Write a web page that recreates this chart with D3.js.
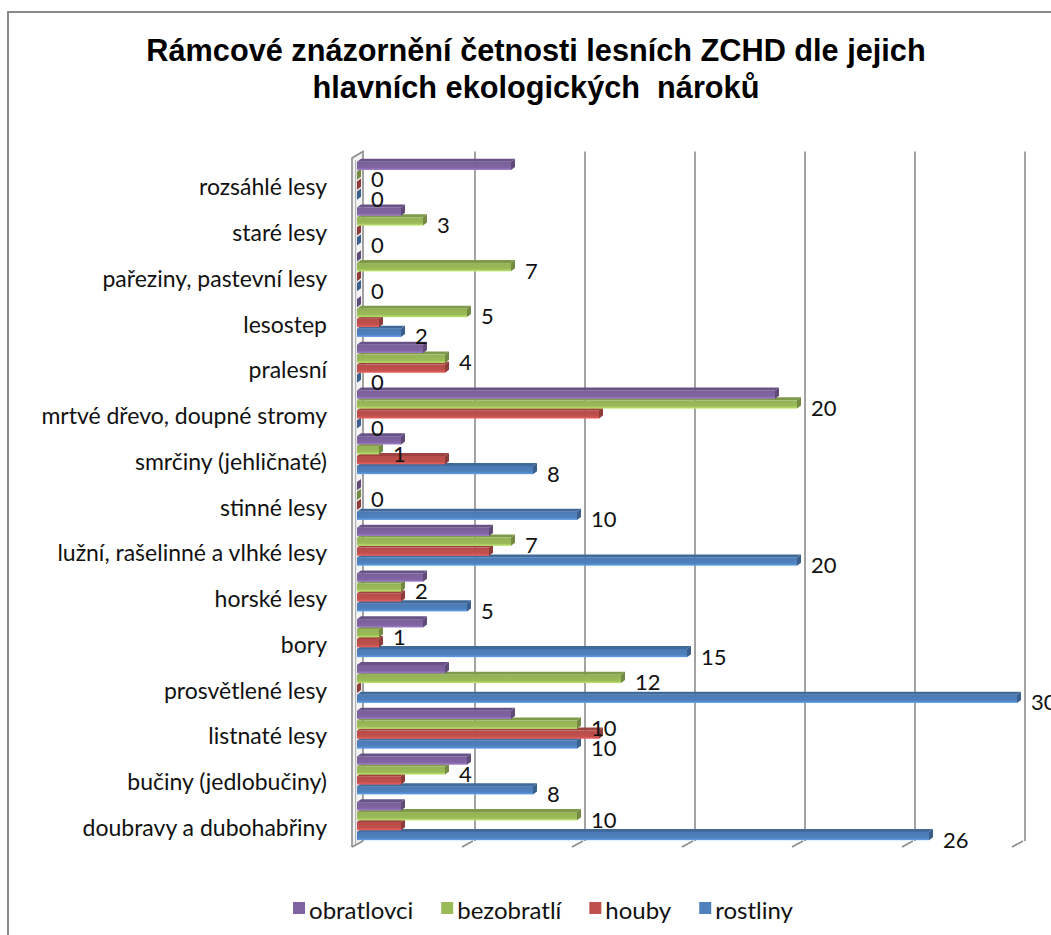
<!DOCTYPE html>
<html><head><meta charset="utf-8">
<script src="https://cdn.jsdelivr.net/npm/d3@7"></script>
<style>body{margin:0;background:#fff;overflow:hidden} svg{display:block}</style>
</head><body><svg id="chart" width="1051" height="935"></svg>
<script>
const categories = ["rozsáhlé lesy","staré lesy","pařeziny, pastevní lesy","lesostep","pralesní","mrtvé dřevo, doupné stromy","smrčiny (jehličnaté)","stinné lesy","lužní, rašelinné a vlhké lesy","horské lesy","bory","prosvětlené lesy","listnaté lesy","bučiny (jedlobučiny)","doubravy a dubohabřiny"];
const seriesNames = ["obratlovci","bezobratlí","houby","rostliny"];
const obratlovci = [7,2,0,0,3,19,2,0,6,3,3,4,7,5,2];
const bezobratli = [0,3,7,5,4,20,1,0,7,2,1,12,10,4,10];
const houby      = [0,0,0,1,4,11,4,0,6,2,1,0,11,2,2];
const rostliny   = [0,0,0,2,0,0,8,10,20,5,15,30,10,8,26];
const labeledSeries = ["bezobratlí","rostliny"];
const xTicks = [0,5,10,15,20,25,30];
const titleLines = ["Rámcové znázornění četnosti lesních ZCHD dle jejich","hlavních ekologických  nároků"];
const seriesColors = ["#8064A2","#9BBB59","#C0504D","#4F81BD"];

const seriesValues = [obratlovci, bezobratli, houby, rostliny];
const svg = d3.select("#chart");
const LABEL_FONT = "Lato, 'Open Sans', sans-serif";

// chart border
svg.append("rect").attr("x",8).attr("y",12).attr("width",1100).attr("height",1000)
  .attr("fill","#fff").attr("stroke","#8a8a8a").attr("stroke-width",2);

// title
svg.append("g").selectAll("text").data(titleLines).join("text")
  .attr("x",536).attr("y",(d,i)=>61+i*37)
  .attr("text-anchor","middle")
  .attr("font-family","'Liberation Sans', Arial, sans-serif")
  .attr("font-weight","bold").attr("font-size",30.7).attr("fill","#000")
  .style("white-space","pre")
  .text(d=>d);

// scales
const x = d3.scaleLinear().domain([0,30]).range([0,660]);
const y = d3.scaleBand().domain(categories).range([158.6, 844.85]).paddingInner(0.134).paddingOuter(0.067);
const ys = d3.scaleBand().domain(seriesNames).range([0, y.bandwidth()]);
const BAR_X0 = 357, FRONT_X0 = 352, BACK_X0 = 365;
const WALL_TOP = 151.5, FLOOR_BACK = 841, FLOOR_FRONT = 847;
const DX = 4, DY = 3, H = 8.3;
const gridColor = "#8c8c8c";

// gradients
const defs = svg.append("defs");
seriesColors.forEach((c,i)=>{
  const g = defs.append("linearGradient").attr("id","grad"+i).attr("x1",0).attr("y1",0).attr("x2",0).attr("y2",1);
  g.append("stop").attr("offset","0%").attr("stop-color", d3.color(c).darker(0.15));
  g.append("stop").attr("offset","70%").attr("stop-color", c);
  g.append("stop").attr("offset","100%").attr("stop-color", d3.color(c).brighter(0.6));
});

// left wall
const wall = svg.append("g");
wall.append("path")
  .attr("d",`M${FRONT_X0},${FLOOR_FRONT} V158 L${FRONT_X0+11},${WALL_TOP} V${FLOOR_BACK}`)
  .attr("fill","#f4f4f4").attr("stroke",gridColor).attr("stroke-width",1.6);
wall.append("line").attr("x1",355.6).attr("x2",355.6).attr("y1",160).attr("y2",845)
  .attr("stroke","#b5b5b5").attr("stroke-width",1.2);

// gridlines on back wall + floor ticks
const grid = svg.append("g");
grid.selectAll("line.g").data(xTicks.slice(1)).join("line").attr("class","g")
  .attr("x1",d=>BACK_X0+x(d)).attr("x2",d=>BACK_X0+x(d))
  .attr("y1",WALL_TOP).attr("y2",FLOOR_BACK)
  .attr("stroke",gridColor).attr("stroke-width",1.6);
grid.selectAll("line.t").data(xTicks).join("line").attr("class","t")
  .attr("x1",d=>FRONT_X0+x(d)).attr("x2",d=>BACK_X0+x(d)-2)
  .attr("y1",FLOOR_FRONT).attr("y2",FLOOR_BACK)
  .attr("stroke",gridColor).attr("stroke-width",1.6);

// bars
const bars = [];
categories.forEach((cat,ci)=>{
  seriesNames.forEach((s,si)=>{
    bars.push({cat, s, si, v: seriesValues[si][ci]});
  });
});
const drawOrder = bars.slice().reverse();
const barG = svg.append("g");
drawOrder.forEach(b=>{
  const y0 = y(b.cat) + ys(b.s);
  const x0 = BAR_X0, x1 = BAR_X0 + x(b.v);
  const c = seriesColors[b.si];
  const g = barG.append("g");
  if (b.v > 0) {
    g.append("path")
      .attr("d",`M${x0},${y0} L${x0+DX},${y0-DY} L${x1+DX},${y0-DY} L${x1},${y0} Z`)
      .attr("fill", d3.color(c).darker(0.55));
    g.append("rect").attr("x",x0).attr("y",y0).attr("width",x1-x0).attr("height",H)
      .attr("fill",`url(#grad${b.si})`);
  }
  g.append("path")
    .attr("d",`M${x1},${y0} L${x1+DX},${y0-DY} L${x1+DX},${y0-DY+H} L${x1},${y0+H} Z`)
    .attr("fill", d3.color(c).darker(0.85));
});

// data labels
svg.append("g").selectAll("text")
  .data(bars.filter(b=>labeledSeries.includes(b.s)))
  .join("text")
  .attr("x",b=>BAR_X0 + x(b.v) + 14)
  .attr("y",b=>y(b.cat)+ys(b.s)+H/2+3)
  .attr("dominant-baseline","central")
  .attr("font-family",LABEL_FONT).attr("font-size",22).attr("fill","#111")
  .text(b=>b.v);

// category labels
svg.append("g").selectAll("text").data(categories).join("text")
  .attr("x",327).attr("y",d=>y(d)+y.bandwidth()/2+5)
  .attr("text-anchor","end").attr("dominant-baseline","central")
  .attr("font-family",LABEL_FONT).attr("font-size",23).attr("fill","#111")
  .text(d=>d);

// legend
const legend = svg.append("g");
let lx = 0;
seriesNames.forEach((s,i)=>{
  const g = legend.append("g");
  g.append("rect").attr("x",lx).attr("y",-17).attr("width",12).attr("height",12).attr("fill",seriesColors[i]);
  const t = g.append("text").attr("x",lx+16).attr("y",0)
    .attr("font-family",LABEL_FONT).attr("font-size",24).attr("fill","#111").text(s);
  lx += 16 + t.node().getComputedTextLength() + 28;
});
const legW = lx - 28;
legend.attr("transform",`translate(${543 - legW/2},919)`);
</script></body></html>
